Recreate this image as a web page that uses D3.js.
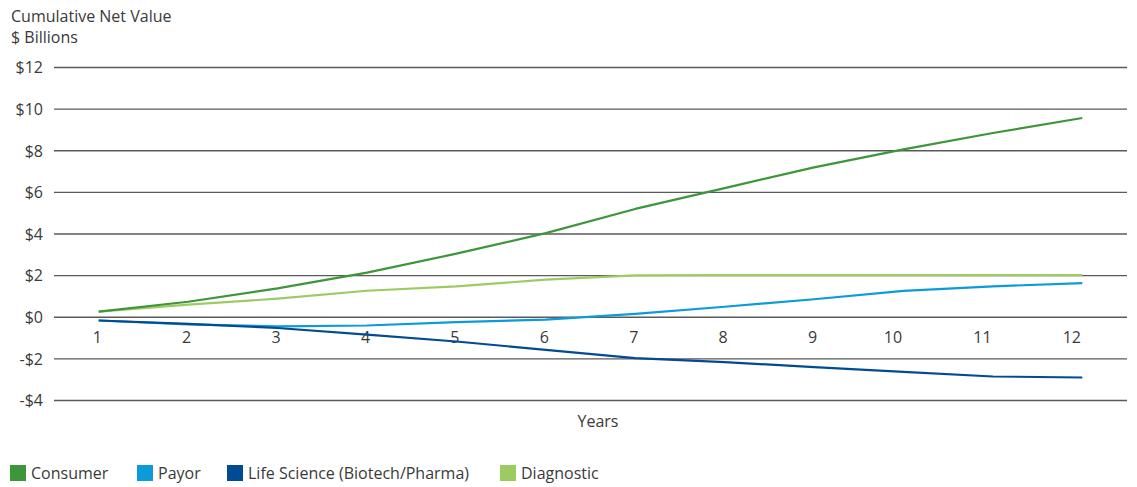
<!DOCTYPE html>
<html>
<head>
<meta charset="utf-8">
<script src="https://cdn.jsdelivr.net/npm/d3@7"></script>
<style>
  html, body { margin: 0; padding: 0; background: #fff; }
  svg text { font-family: "Open Sans", "Noto Sans", sans-serif; fill: #3a3a3a; }
</style>
</head>
<body>
<svg id="chart" width="1137" height="487"></svg>
<script>
const years = [1, 2, 3, 4, 5, 6, 7, 8, 9, 10, 11, 12];
const yTicks = [-4, -2, 0, 2, 4, 6, 8, 10, 12];
const seriesNames = ["Consumer", "Payor", "Life Science (Biotech/Pharma)", "Diagnostic"];
const seriesColors = ["#3d963a", "#0b9bdb", "#004b93", "#9dcb63"];
const consumer    = [0.25, 0.72, 1.36, 2.12, 3.03, 4.02, 5.18, 6.18, 7.18, 8.04, 8.83, 9.55];
const payor       = [-0.18, -0.37, -0.46, -0.42, -0.26, -0.14, 0.14, 0.48, 0.84, 1.24, 1.46, 1.62];
const lifeScience = [-0.18, -0.34, -0.54, -0.86, -1.19, -1.59, -1.99, -2.18, -2.42, -2.65, -2.87, -2.92];
const diagnostic  = [0.25, 0.58, 0.87, 1.25, 1.46, 1.78, 1.99, 2.0, 2.0, 2.0, 2.0, 2.0];
const seriesValues = [consumer, payor, lifeScience, diagnostic];

const svg = d3.select("#chart");
const plotLeft = 54, plotRight = 1127, plotTop = 67, plotBottom = 400;

const x = d3.scalePoint().domain(years).range([plotLeft, plotRight]).padding(0.5);
const y = d3.scaleLinear().domain([-4, 12]).range([plotBottom, plotTop]);

// Axis titles
svg.append("text").attr("x", 11).attr("y", 22).attr("font-size", 16).text("Cumulative Net Value");
svg.append("text").attr("x", 11).attr("y", 43).attr("font-size", 16).text("$ Billions");

// Y gridlines + labels via axis
const yAxis = d3.axisLeft(y).tickValues(yTicks).tickSize(-(plotRight - plotLeft)).tickPadding(11)
  .tickFormat(d => (d < 0 ? "-$" + Math.abs(d) : "$" + d));
const gy = svg.append("g").attr("transform", `translate(${plotLeft},0)`).call(yAxis);
gy.select(".domain").remove();
gy.selectAll(".tick line").attr("stroke", "#5a5a5a").attr("stroke-width", 1.3);
gy.selectAll(".tick text").attr("font-size", 16).attr("fill", "#3a3a3a").attr("dy", "0.36em")
  .attr("font-family", "'Open Sans', 'Noto Sans', sans-serif");

// X labels via axis (no lines)
const xAxis = d3.axisBottom(x).tickSize(0).tickPadding(0);
const gx = svg.append("g").attr("transform", `translate(-2,${y(0)})`).call(xAxis);
gx.select(".domain").remove();
gx.selectAll(".tick text").attr("font-size", 16).attr("fill", "#3a3a3a").attr("y", 26).attr("dy", 0)
  .attr("dx", d => (String(d).length > 1 ? -9 : 0))
  .attr("font-family", "'Open Sans', 'Noto Sans', sans-serif");

svg.append("text").attr("x", 598).attr("y", 427).attr("text-anchor", "middle")
  .attr("font-size", 16).text("Years");

// Lines
const line = d3.line().x((d, i) => x(years[i])).y(d => y(d));
const drawOrder = [3, 0, 1, 2];
drawOrder.forEach(k => {
  svg.append("path").datum(seriesValues[k])
    .attr("fill", "none").attr("stroke", seriesColors[k])
    .attr("stroke-width", 2.2).attr("stroke-linejoin", "round")
    .attr("d", line);
});

// Legend
const legendX = [10, 137, 227, 500];
seriesNames.forEach((name, i) => {
  const g = svg.append("g").attr("transform", `translate(${legendX[i]},465)`);
  g.append("rect").attr("width", 16).attr("height", 16).attr("fill", seriesColors[i]);
  g.append("text").attr("x", 21).attr("y", 14).attr("font-size", 16).text(name);
});
</script>
</body>
</html>
